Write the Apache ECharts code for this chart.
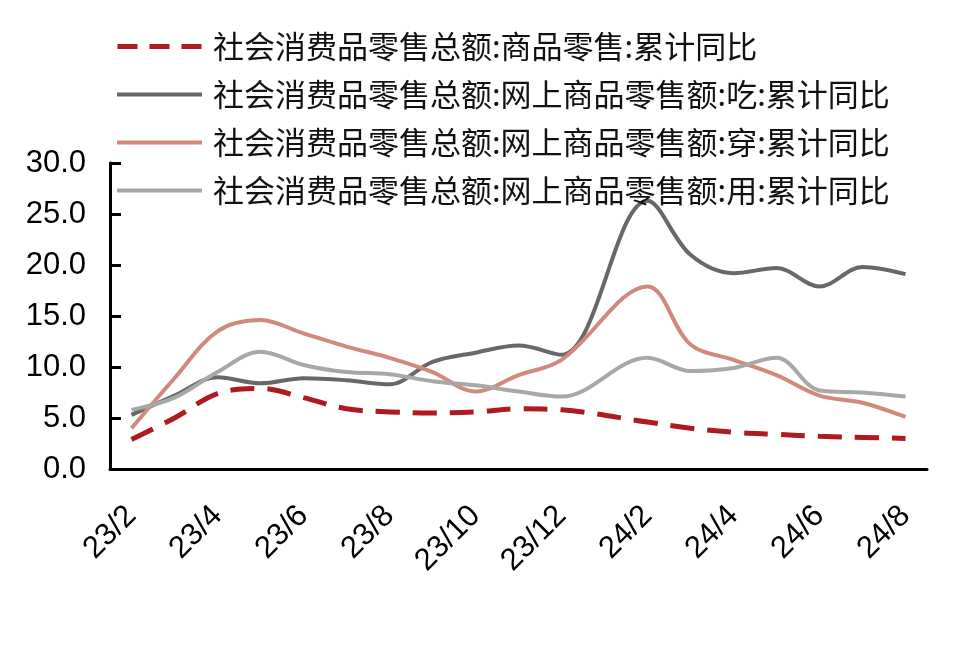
<!DOCTYPE html>
<html>
<head>
<meta charset="utf-8">
<script src="https://cdn.jsdelivr.net/npm/echarts@6/dist/echarts.min.js"></script>
<style>
html,body{margin:0;padding:0;background:#fff;}
#chart{width:980px;height:645px;}
</style>
</head>
<body>
<div id="chart"></div>
<script>
const categories = ['23/2','23/3','23/4','23/5','23/6','23/7','23/8','23/9','23/10','23/11','23/12','24/1','24/2','24/3','24/4','24/5','24/6','24/7','24/8'];
const seriesNames = [
  '社会消费品零售总额:商品零售:累计同比',
  '社会消费品零售总额:网上商品零售额:吃:累计同比',
  '社会消费品零售总额:网上商品零售额:穿:累计同比',
  '社会消费品零售总额:网上商品零售额:用:累计同比'
];
const goodsRetail = [2.9, 5.0, 7.4, 7.9, 7.0, 5.9, 5.6, 5.5, 5.6, 5.9, 5.8, null, 4.6, 4.0, 3.6, 3.4, 3.2, 3.1, 3.0];
const onlineEat   = [5.3, 7.2, 9.0, 8.4, 8.9, 8.7, 8.3, 10.5, 11.4, 12.1, 11.2, null, 26.3, 21.0, 19.2, 19.7, 17.9, 19.8, 19.1];
const onlineWear  = [4.0, 8.9, 13.5, 14.6, 13.3, 12.0, 10.9, 9.5, 7.6, 9.2, 10.7, null, 17.9, 12.2, 10.7, 9.2, 7.2, 6.5, 5.1];
const onlineUse   = [5.8, 7.0, 9.5, 11.5, 10.2, 9.5, 9.3, 8.6, 8.2, 7.6, 7.1, null, 10.9, 9.6, 9.9, 10.9, 7.7, 7.5, 7.1];
const yTicks = {min: 0, max: 30, interval: 5};

const chart = echarts.init(document.getElementById('chart'), null, {renderer: 'canvas'});
const colors = ['#AE1A1F', '#686868', '#D08A7C', '#A8A8A8'];
const dataSets = [goodsRetail, onlineEat, onlineWear, onlineUse];
const dashIcon = 'path://M0,0H20V5H0Z M32,0H52V5H32Z M64,0H84V5H64Z';
const solidIcon = 'path://M0,0H84V4H0Z';

chart.setOption({
  backgroundColor: '#ffffff',
  animation: false,
  grid: {left: 110, right: 53, top: 163, bottom: 176, containLabel: false},
  legend: {
    orient: 'vertical',
    left: 112,
    top: 24,
    itemWidth: 85,
    itemHeight: 5,
    itemGap: 13,
    selectedMode: false,
    textStyle: {
      fontFamily: '"Noto Sans CJK SC", sans-serif',
      fontSize: 31,
      color: '#111',
      lineHeight: 35,
      padding: [0, 0, 0, 6]
    },
    data: seriesNames.map((n, i) => ({name: n, icon: i === 0 ? dashIcon : solidIcon, itemStyle: {color: colors[i]}}))
  },
  xAxis: {
    type: 'category',
    data: categories,
    boundaryGap: true,
    axisLine: {lineStyle: {color: '#000', width: 3}},
    axisTick: {inside: true, length: 11, interval: 1, alignWithLabel: false, lineStyle: {color: '#000', width: 3}},
    axisLabel: {
      interval: 1,
      rotate: 45,
      margin: 42,
      fontFamily: '"Liberation Sans", Arial, sans-serif',
      fontSize: 31,
      color: '#000'
    },
    splitLine: {show: false}
  },
  yAxis: {
    type: 'value',
    min: yTicks.min,
    max: yTicks.max,
    interval: yTicks.interval,
    axisLine: {show: true, lineStyle: {color: '#000', width: 3}},
    axisTick: {show: true, inside: true, length: 11, lineStyle: {color: '#000', width: 3}},
    axisLabel: {
      margin: 24,
      fontFamily: '"Liberation Sans", Arial, sans-serif',
      fontSize: 31,
      color: '#000',
      formatter: v => v.toFixed(1)
    },
    splitLine: {show: false}
  },
  series: seriesNames.map((name, i) => ({
    name: name,
    type: 'line',
    data: dataSets[i],
    smooth: 0.35,
    connectNulls: true,
    symbol: 'none',
    lineStyle: i === 0
      ? {color: colors[i], width: 5, type: [24, 13]}
      : {color: colors[i], width: 4},
    itemStyle: {color: colors[i]},
    z: i === 0 ? 5 : 3
  }))
});
</script>
</body>
</html>
